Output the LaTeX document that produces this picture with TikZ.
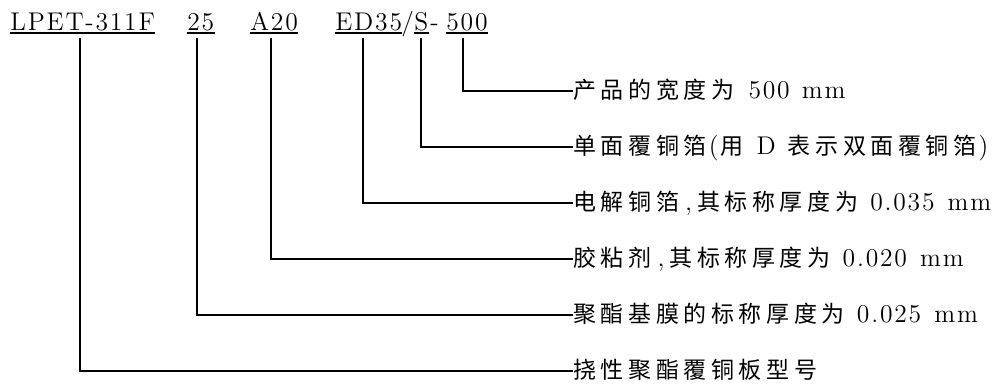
\documentclass[tikz,border=0pt]{standalone}
\usepackage{fontspec}
\setmainfont{Latin Modern Roman}[LetterSpace=7]
\newfontfamily\cjk{Noto Sans CJK SC}[LetterSpace=20]
\newcommand{\cjkcomma}{\kern3pt,\kern2.5pt}
\newcommand{\zh}[1]{{\fontsize{11.5}{14}\cjk #1}}
\begin{document}
\begin{tikzpicture}[x=0.5pt,y=-0.5pt,
  code/.style={anchor=base west,inner sep=0pt,font=\fontsize{12.8}{14}\selectfont},
  desc/.style={anchor=west,inner sep=0pt,text height=8.6pt,text depth=1.4pt,font=\fontsize{12.8}{14}\selectfont},
  link/.style={line width=0.65pt},
  uline/.style={line width=0.6pt}]
\useasboundingbox (0,0) rectangle (1002,387);
% codes
\node[code] (lpet) at (10,30) {LPET-311F};
\node[code] (c25) at (187,30) {25};
\node[code] (a20) at (250,30) {A20};
\node[code] (ed35) at (335,30) {ED35};
\node[code] (slash) at (401,30) {/};
\node[code] (s) at (414,30) {S};
\node[code] (dash) at (430,30) {-};
\node[code] (c500) at (446,30) {500};
% underlines
\foreach \n in {lpet,c25,a20,ed35,s,c500}
  \draw[uline] ([yshift=-1.5pt]\n.base west) -- ([yshift=-1.5pt]\n.base east);
% descriptions
\node[desc] (d500) at (573,91) {\zh{产品的宽度为}\kern2pt{} 500\kern1pt{} mm};
\node[desc] (ds) at (573,147) {\zh{单面覆铜箔}\kern1pt(\kern1pt\zh{用}\kern1.5pt{} D \kern1pt\zh{表示双面覆铜箔}\kern1pt)};
\node[desc] (ded) at (573,203) {\zh{电解铜箔}\cjkcomma\zh{其标称厚度为}\kern1pt{} 0.035\kern1.5pt{} mm};
\node[desc] (da20) at (573,259) {\zh{胶粘剂}\cjkcomma\zh{其标称厚度为}\kern1pt{} 0.020\kern1.5pt{} mm};
\node[desc] (d25) at (573,315) {\zh{聚酯基膜的标称厚度为}\kern1pt{} 0.025\kern1.5pt{} mm};
\node[desc] (dl) at (573,371) {\zh{挠性聚酯覆铜板型号}};
% connectors
\coordinate (t500) at (463,38);
\coordinate (ts) at (421,38);
\coordinate (ted) at (363,38);
\coordinate (ta20) at (271,38);
\coordinate (t25) at (197,38);
\coordinate (tl) at (80,38);
\draw[link] (t500) |- (d500.west);
\draw[link] (ts) |- (ds.west);
\draw[link] (ted) |- (ded.west);
\draw[link] (ta20) |- (da20.west);
\draw[link] (t25) |- (d25.west);
\draw[link] (tl) |- (dl.west);
\end{tikzpicture}
\end{document}
